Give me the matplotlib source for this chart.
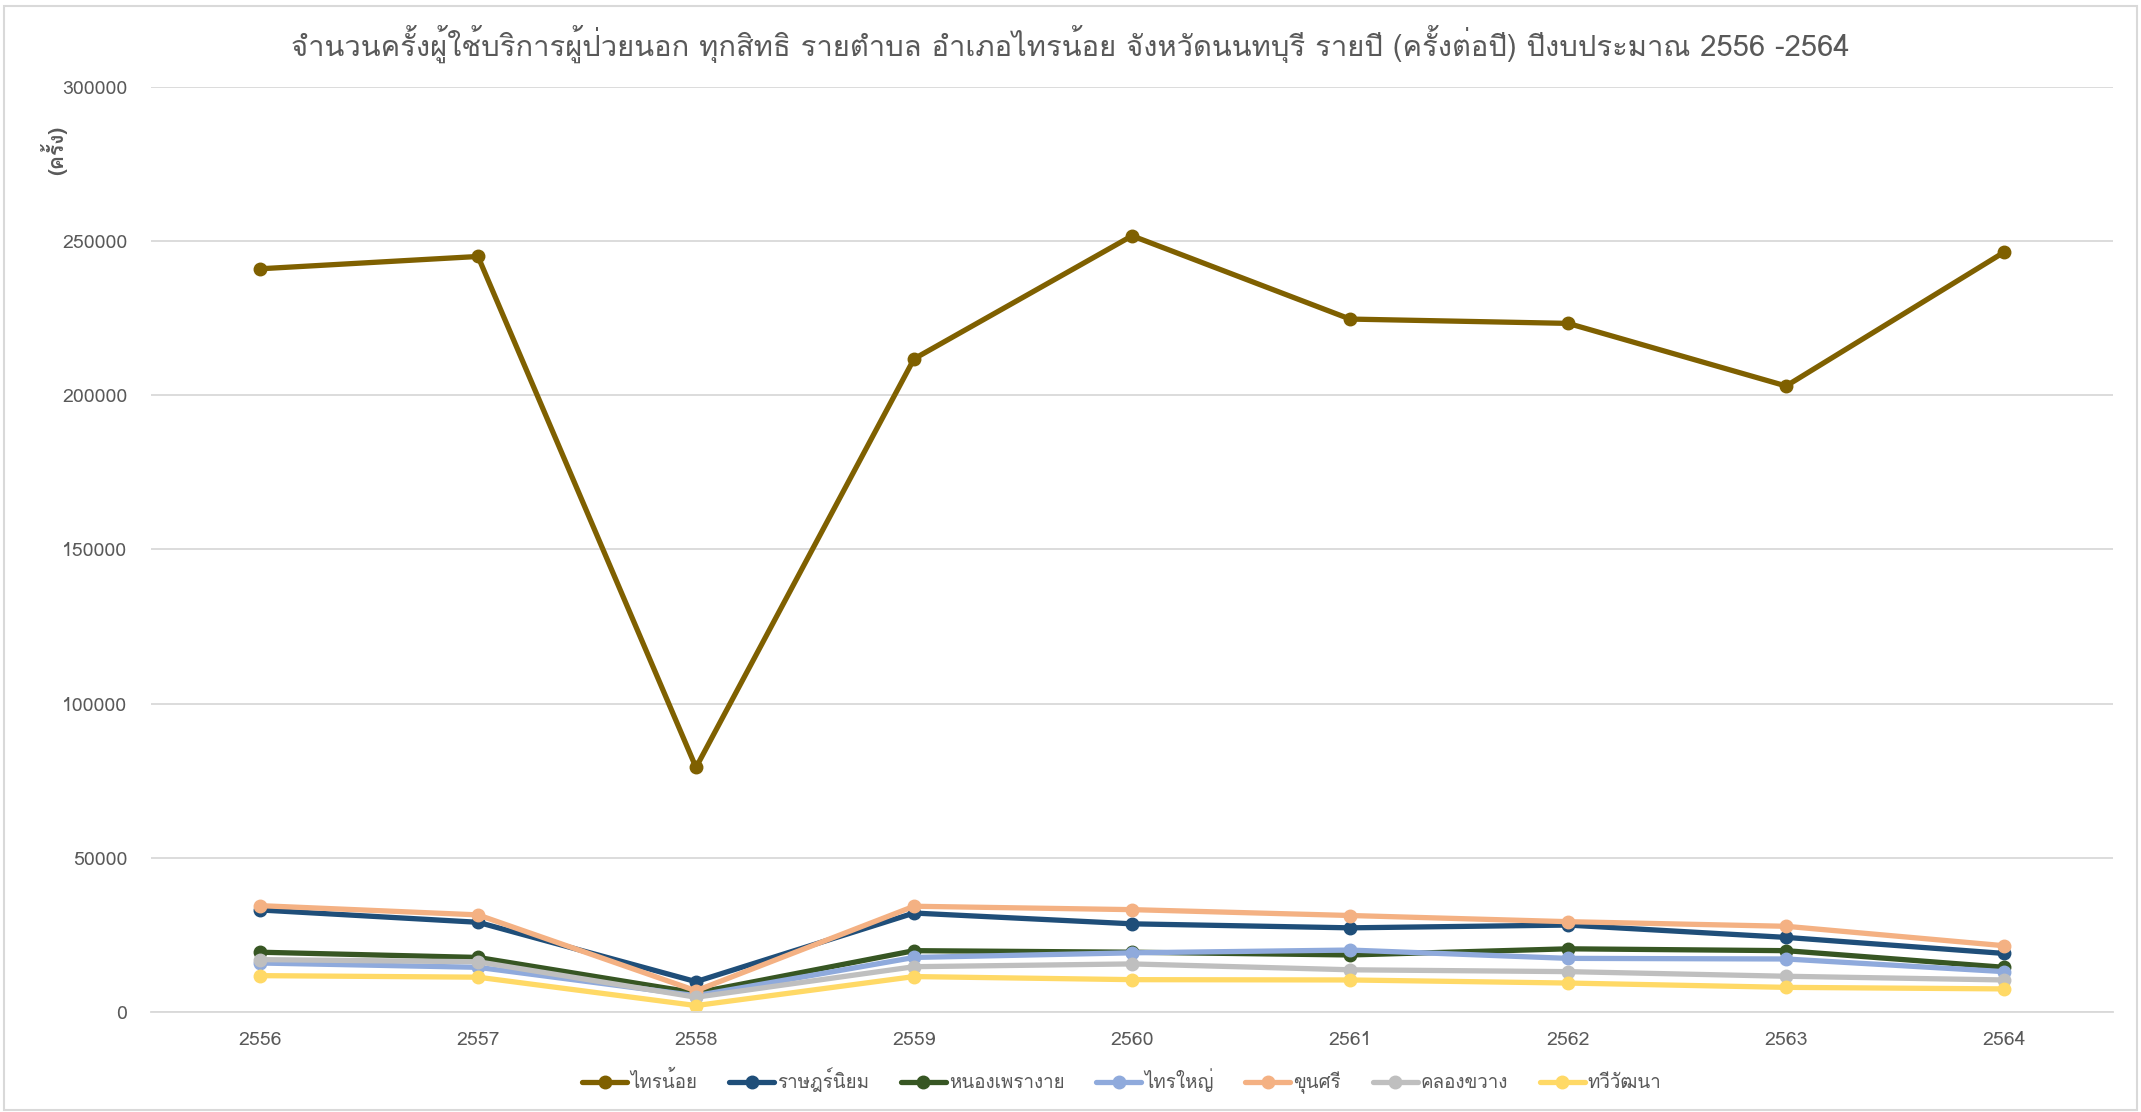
import matplotlib
matplotlib.use("Agg")
import matplotlib.pyplot as plt
from matplotlib import font_manager
from matplotlib.ft2font import FT2Font


def find_thai_family():
    """Pick the first installed font that has Thai glyphs."""
    for f in font_manager.fontManager.ttflist:
        try:
            if FT2Font(f.fname).get_char_index(ord("ก")):
                return f.name
        except Exception:
            continue
    return None


thai = find_thai_family()
families = ([thai] if thai else []) + ["Noto Sans", "DejaVu Sans"]
plt.rcParams["font.family"] = families

years = ["2556", "2557", "2558", "2559", "2560", "2561", "2562", "2563", "2564"]

sainoi = [241000, 245000, 79300, 211800, 251700, 224700, 223300, 203000, 246400]
ratniyom = [33100, 29100, 9850, 32100, 28600, 27300, 28200, 24200, 19000]
nongphrao = [19400, 17700, 6200, 19900, 19400, 18500, 20500, 19900, 14500]
saiyai = [15900, 14500, 5300, 17700, 19200, 20100, 17400, 17200, 13100]
khunsri = [34500, 31500, 6900, 34300, 33200, 31300, 29300, 27800, 21500]
khlongkhwang = [17000, 16300, 4800, 14700, 15600, 13700, 13100, 11600, 10400]
thawiwatthana = [11800, 11300, 2100, 11500, 10500, 10400, 9400, 8000, 7500]

series = [
    ("ไทรน้อย", sainoi, "#7F6000"),
    ("ราษฎร์นิยม", ratniyom, "#1F4E79"),
    ("หนองเพรางาย", nongphrao, "#375623"),
    ("ไทรใหญ่", saiyai, "#8FAADC"),
    ("ขุนศรี", khunsri, "#F4B183"),
    ("คลองขวาง", khlongkhwang, "#BFBFBF"),
    ("ทวีวัฒนา", thawiwatthana, "#FFD966"),
]

fig = plt.figure(figsize=(21.41, 11.12), dpi=100)
ax = fig.add_axes([0.0705, 0.0899, 0.9165, 0.832])

x = list(range(len(years)))
for name, vals, color in series:
    ax.plot(x, vals, color=color, linewidth=3.8, marker="o", markersize=9,
            label=name, solid_capstyle="round")

ax.set_xlim(-0.5, len(years) - 0.5)
ax.set_ylim(0, 300000)
ax.set_yticks(range(0, 300001, 50000))
ax.set_xticks(x)
ax.set_xticklabels(years)
ax.tick_params(length=0, labelsize=14, colors="#595959", pad=14)
ax.tick_params(axis="y", pad=17)
ax.grid(axis="y", color="#D9D9D9", linewidth=1.3)
ax.set_axisbelow(True)
for side in ["left", "right", "top"]:
    ax.spines[side].set_visible(False)
ax.spines["bottom"].set_color("#D9D9D9")
ax.spines["bottom"].set_linewidth(1.3)

fig.text(0.5, 0.961, "จำนวนครั้งผู้ใช้บริการผู้ป่วยนอก ทุกสิทธิ รายตำบล อำเภอไทรน้อย จังหวัดนนทบุรี รายปี (ครั้งต่อปี) ปีงบประมาณ 2556 -2564",
         ha="center", va="center", fontsize=21, color="#595959")
fig.text(0.025, 0.865, "(ครั้ง)", rotation=90, ha="center", va="center",
         fontsize=15, color="#595959", fontweight="bold")

fig.legend(loc="center", bbox_to_anchor=(0.524, 0.028), ncol=7, frameon=False,
           fontsize=13.5, labelcolor="#595959", handlelength=2.4, columnspacing=1.7,
           handletextpad=0.15)

# light border around the whole chart, like the Excel chart area
fig.patches.append(plt.Rectangle((0.002, 0.002), 0.996, 0.993, transform=fig.transFigure,
                                 fill=False, edgecolor="#D9D9D9", linewidth=1.5))

fig.savefig("out.png", dpi=100)
